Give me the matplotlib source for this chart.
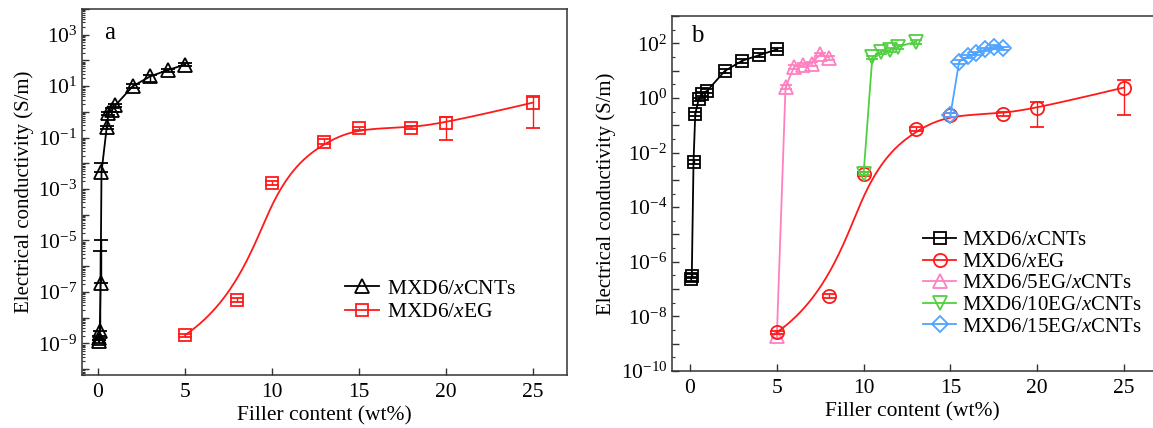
import numpy as np
import matplotlib
matplotlib.use('Agg')
import matplotlib.pyplot as plt
from matplotlib.lines import Line2D
from matplotlib.ticker import FixedLocator, FuncFormatter, NullFormatter

plt.rcParams['font.family'] = ['Liberation Serif', 'DejaVu Serif']
plt.rcParams['mathtext.fontset'] = 'custom'
plt.rcParams['mathtext.rm'] = 'Liberation Serif'
plt.rcParams['mathtext.it'] = 'Liberation Serif:italic'

# ---- panel a data ----
a_cnt_x = [0.05, 0.07, 0.1, 0.15, 0.2, 0.5, 0.6, 0.8, 1, 2, 3, 4, 5]
a_cnt_y = [1.2e-9, 1.6e-9, 3e-9, 2.3e-7, 4.5e-3, 0.25, 0.87, 1.2, 1.8, 10, 24, 42, 69]
a_cnt_hi = [1.4e-9, 1.9e-9, 4e-6, 1e-5, 1e-2, 0.29, 1.0, 1.4, 2.1, 12, 28, 48, 78]
a_cnt_lo = [1.0e-9, 1.4e-9, 3e-9, 2.3e-7, 4.5e-3, 0.21, 0.75, 1.0, 1.5, 8.5, 14, 37, 60]

a_eg_x = [5, 8, 10, 13, 15, 18, 20, 25]
a_eg_y = [2.1e-9, 5e-8, 1.7e-3, 0.07, 0.23, 0.24, 0.37, 2.3]
a_eg_hi = [2.4e-9, 6e-8, 2.1e-3, 0.085, 0.27, 0.28, 0.66, 4.0]
a_eg_lo = [1.8e-9, 4.2e-8, 1.4e-3, 0.058, 0.2, 0.21, 0.08, 0.23]

# ---- panel b data ----
b_cnt_x = [0.05, 0.1, 0.2, 0.3, 0.5, 0.7, 1, 2, 3, 4, 5]
b_cnt_y = [2.4e-7, 3.0e-7, 4.6e-3, 0.26, 0.9, 1.4, 1.85, 9.7, 23, 37, 60]

b_eg_x = [5, 8, 10, 13, 15, 18, 20, 25]
b_eg_y = [2.6e-9, 5.7e-8, 1.7e-3, 0.071, 0.24, 0.26, 0.42, 2.4]
b_eg_hi = [3.0e-9, 6.8e-8, 2.0e-3, 0.085, 0.28, 0.3, 0.72, 4.6]
b_eg_lo = [2.2e-9, 4.8e-8, 1.4e-3, 0.06, 0.2, 0.22, 0.089, 0.24]

b_5eg_x = [5, 5.5, 6, 6.5, 7, 7.5, 8]
b_5eg_y = [1.9e-9, 2.5, 14, 16, 18, 40, 30]
b_10eg_x = [10, 10.5, 11, 11.5, 12, 13]
b_10eg_y = [1.7e-3, 31, 49, 57, 75, 114]
b_15eg_x = [15, 15.5, 16, 16.5, 17, 17.5, 18]
b_15eg_y = [0.24, 21, 33, 43, 60, 75, 66]

rel_err = 0.15  # small error bars on most points

RED = '#ff1a1a'
PINK = '#ff80c0'
GREEN = '#50d040'
BLUE = '#4ea4ff'
FS = 15.5


def bspline(xs, ys, n=300):
    # clamped cubic B-spline with the data as control points (x, log10 y)
    P = np.column_stack([xs, np.log10(ys)])
    m = len(P)
    knots = np.concatenate([np.zeros(3), np.linspace(0, 1, m - 2), np.ones(3)])
    t = np.linspace(0, 1, n)
    N = np.zeros((n, len(knots) - 1))
    for i in range(len(knots) - 1):
        N[:, i] = (knots[i] <= t) & (t < knots[i + 1])
    N[-1, m - 1] = 1
    for d in range(1, 4):
        Nn = np.zeros((n, len(knots) - 1 - d))
        for i in range(len(knots) - 1 - d):
            a = knots[i + d] - knots[i]
            b = knots[i + d + 1] - knots[i + 1]
            if a > 0:
                Nn[:, i] += (t - knots[i]) / a * N[:, i]
            if b > 0:
                Nn[:, i] += (knots[i + d + 1] - t) / b * N[:, i + 1]
        N = Nn
    C = N[:, :m] @ P
    return C[:, 0], 10 ** C[:, 1]


def rel_bars(y):
    y = np.asarray(y)
    return [y * rel_err, y * rel_err]


def bars(y, lo, hi):
    y = np.asarray(y)
    return [y - np.asarray(lo), np.asarray(hi) - y]


def proxy(color, marker, ms):
    return Line2D([], [], color=color, marker=marker, ms=ms, mfc='none', mew=1.3, lw=1.3)


def style_axis(ax, ymin_exp, ymax_exp, label_step, minor_mode):
    ax.set_yscale('log')
    majors = [10.0 ** k for k in range(ymin_exp, ymax_exp + 1)]
    ax.yaxis.set_major_locator(FixedLocator(majors))
    if minor_mode == 'full':
        minors = [s * 10.0 ** k for k in range(ymin_exp - 1, ymax_exp + 1) for s in range(2, 10)]
    else:
        minors = [10.0 ** (k + 0.5) for k in range(ymin_exp - 1, ymax_exp + 1)]
    ax.yaxis.set_minor_locator(FixedLocator(minors))
    ax.yaxis.set_minor_formatter(NullFormatter())

    def fmt(v, pos):
        k = int(round(np.log10(v)))
        if (k - label_step[1]) % label_step[0] == 0:
            return r'$10^{%d}$' % k
        return ''
    ax.yaxis.set_major_formatter(FuncFormatter(fmt))
    ax.set_xticks([0, 5, 10, 15, 20, 25])
    ax.tick_params(axis='both', which='major', direction='in', length=5, width=1,
                   labelsize=FS, top=False, right=False, colors='#333333', labelcolor='black')
    ax.tick_params(axis='both', which='minor', direction='in', length=2.5, width=0.8,
                   top=False, right=False, colors='#333333')
    ax.tick_params(axis='x', pad=6)
    for sp in ax.spines.values():
        sp.set_linewidth(1.1)
        sp.set_color('#333333')
    ax.set_xlabel('Filler content (wt%)', fontsize=FS, labelpad=3)
    ax.set_ylabel('Electrical conductivity (S/m)', fontsize=15, labelpad=3)


fig = plt.figure(figsize=(11.53, 4.28), dpi=100)
ax1 = fig.add_axes([82 / 1153, 53 / 428, 485 / 1153, 366 / 428])
ax2 = fig.add_axes([672 / 1153, 57 / 428, 481 / 1153, 355 / 428])

# ---- panel a ----
ax1.errorbar(a_cnt_x, a_cnt_y, yerr=bars(a_cnt_y, a_cnt_lo, a_cnt_hi), color='black',
             marker='^', ms=10, mfc='none', mew=1.3, lw=1.3, capsize=5, elinewidth=1)
ax1.errorbar(a_eg_x, a_eg_y, yerr=bars(a_eg_y, a_eg_lo, a_eg_hi), color=RED,
             marker='s', ms=8.5, mfc='none', mew=1.3, ls='none', capsize=5, elinewidth=1)
sx, sy = bspline(a_eg_x, a_eg_y)
ax1.plot(sx, sy, color=RED, lw=1.3)
style_axis(ax1, -10, 4, (2, 1), 'full')
ax1.set_xlim(-0.92, 26.95)
ax1.set_ylim(10 ** -10.23, 10 ** 4.0)
ax1.text(0.045, 0.965, 'a', transform=ax1.transAxes, fontsize=18, va='top')
ax1.legend([proxy('black', '^', 10), proxy(RED, 's', 8.5)],
           [r'MXD6/$\it{x}$CNTs', r'MXD6/$\it{x}$EG'],
           loc='upper left', bbox_to_anchor=(0.52, 0.292), frameon=False, fontsize=FS,
           borderpad=0, handlelength=1.6, handletextpad=0.35, labelspacing=0.15)

# ---- panel b ----
ax2.errorbar(b_cnt_x, b_cnt_y, yerr=rel_bars(b_cnt_y), color='black', marker='s', ms=8,
             mfc='none', mew=1.3, lw=1.3, capsize=4, elinewidth=1, zorder=3)
ax2.errorbar(b_eg_x, b_eg_y, yerr=bars(b_eg_y, b_eg_lo, b_eg_hi), color=RED, marker='o',
             ms=9.5, mfc='none', mew=1.3, ls='none', capsize=5, elinewidth=1, zorder=4)
sx, sy = bspline(b_eg_x, b_eg_y)
ax2.plot(sx, sy, color=RED, lw=1.3, zorder=4)
ax2.errorbar(b_5eg_x, b_5eg_y, yerr=rel_bars(b_5eg_y), color=PINK, marker='^', ms=10,
             mfc='none', mew=1.3, lw=1.3, capsize=4, elinewidth=1, zorder=3)
ax2.errorbar(b_10eg_x, b_10eg_y, yerr=rel_bars(b_10eg_y), color=GREEN, marker='v', ms=10,
             mfc='none', mew=1.3, lw=1.3, capsize=4, elinewidth=1, zorder=5)
ax2.errorbar(b_15eg_x, b_15eg_y, yerr=rel_bars(b_15eg_y), color=BLUE, marker='D', ms=8.5,
             mfc='none', mew=1.3, lw=1.3, capsize=4, elinewidth=1, zorder=5)
style_axis(ax2, -10, 3, (2, 0), 'half')
ax2.spines['right'].set_visible(False)
ax2.set_xlim(-1.04, 26.67)
ax2.set_ylim(1e-10, 1e3)
ax2.text(0.04, 0.975, 'b', transform=ax2.transAxes, fontsize=18, va='top')
ax2.legend([proxy('black', 's', 8), proxy(RED, 'o', 9.5), proxy(PINK, '^', 10),
            proxy(GREEN, 'v', 10), proxy(BLUE, 'D', 8.5)],
           [r'MXD6/$\it{x}$CNTs', r'MXD6/$\it{x}$EG', r'MXD6/5EG/$\it{x}$CNTs',
            r'MXD6/10EG/$\it{x}$CNTs', r'MXD6/15EG/$\it{x}$CNTs'],
           loc='upper left', bbox_to_anchor=(0.5, 0.425), frameon=False, fontsize=15,
           borderpad=0, handlelength=1.6, handletextpad=0.3, labelspacing=0.1)

fig.savefig('out.png', dpi=100)
